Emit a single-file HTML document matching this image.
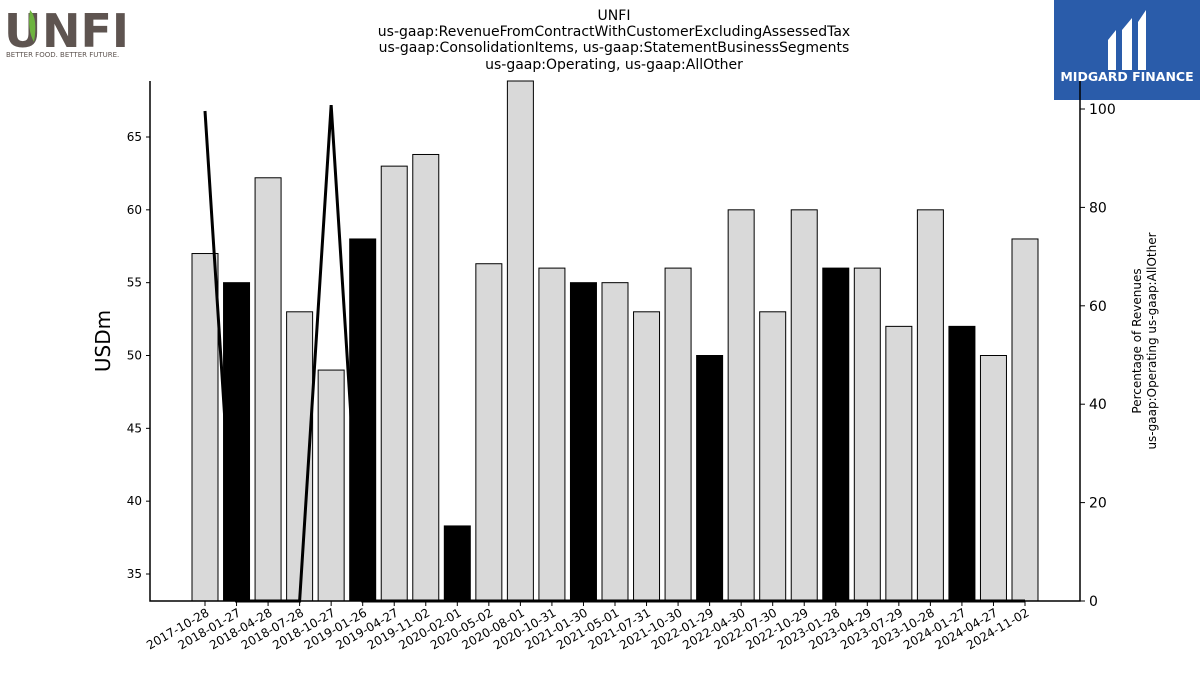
<!DOCTYPE html>
<html><head><meta charset="utf-8"><style>
body{margin:0;background:#fff;width:1200px;height:675px;overflow:hidden;font-family:"Liberation Sans","DejaVu Sans",sans-serif}
svg text{font-family:"DejaVu Sans","Liberation Sans",sans-serif}
</style></head><body>
<svg width="1200" height="675" viewBox="0 0 1200 675">
<g>
<text x="4" y="47" font-size="46" font-weight="bold" fill="#5e5450" font-family="Liberation Sans" letter-spacing="2">U</text>
<path d="M30 10 Q38 18 34 42 Q27 30 30 10Z" fill="#6db33f"/>
<text x="42" y="47" font-size="46" font-weight="bold" fill="#5e5450" font-family="Liberation Sans">NFI</text>
<text x="6" y="57" font-size="7" fill="#5e5450" font-family="Liberation Sans">BETTER FOOD. BETTER FUTURE.</text>
</g>
<g>
<rect x="1054" y="0" width="146" height="100" fill="#2a5caa"/>
<path d="M1108 40 L1116 30 L1116 70 L1108 70Z M1122 30 L1132 18 L1132 70 L1122 70Z M1138 22 L1146 10 L1146 70 L1138 70Z" fill="#fff"/>
<text x="1127" y="81" font-size="12.5" font-weight="bold" fill="#fff" text-anchor="middle" font-family="Liberation Sans">MIDGARD FINANCE</text>
</g>
<g font-size="14" text-anchor="middle" fill="#000">
<text x="614" y="20">UNFI</text>
<text x="614" y="36">us-gaap:RevenueFromContractWithCustomerExcludingAssessedTax</text>
<text x="614" y="52">us-gaap:ConsolidationItems, us-gaap:StatementBusinessSegments</text>
<text x="614" y="69">us-gaap:Operating, us-gaap:AllOther</text>
</g>
<g id="bars"></g>
<g id="line"></g>
<g id="axes"></g>
<text transform="translate(110,341) rotate(-90)" font-size="20" text-anchor="middle">USDm</text>
<g transform="rotate(-90)" font-size="12" text-anchor="middle">
<text x="-341" y="1141">Percentage of Revenues</text>
<text x="-341" y="1156">us-gaap:Operating us-gaap:AllOther</text>
</g>
</svg>
<script>
const categories=["2017-10-28","2018-01-27","2018-04-28","2018-07-28","2018-10-27","2019-01-26","2019-04-27","2019-11-02","2020-02-01","2020-05-02","2020-08-01","2020-10-31","2021-01-30","2021-05-01","2021-07-31","2021-10-30","2022-01-29","2022-04-30","2022-07-30","2022-10-29","2023-01-28","2023-04-29","2023-07-29","2023-10-28","2024-01-27","2024-04-27","2024-11-02"];
const revenues=[57,55,62.2,53,49,58,63,63.8,38.3,56.3,70,56,55,55,53,56,50,60,53,60,56,56,52,60,52,50,58];
const highlighted=[0,1,0,0,0,1,0,0,1,0,0,0,1,0,0,0,1,0,0,0,1,0,0,0,1,0,0];
const percentages=[99.6,0,0,0,100.8,0,0,0,0,0,0,0,0,0,0,0,0,0,0,0,0,0,0,0,0,0,0];
const leftTicks=[35,40,45,50,55,60,65];
const rightTicks=[0,20,40,60,80,100];
const NS="http://www.w3.org/2000/svg";
const L=150,R=1080,T=81,B=601;
const yL=v=>574-(v-35)*(437/30);
const yR=v=>601-v*4.92;
const xC=i=>205+i*(820/(categories.length-1));
function mk(tag,attrs,parent){const e=document.createElementNS(NS,tag);for(const k in attrs)e.setAttribute(k,attrs[k]);parent.appendChild(e);return e;}
const gb=document.getElementById('bars'),gl=document.getElementById('line'),ga=document.getElementById('axes');
const bw=26;
revenues.forEach((v,i)=>{const top=Math.max(T,yL(v));
const r=mk('rect',{x:xC(i)-bw/2,y:top,width:bw,height:B-top,fill:highlighted[i]?'#000':'#d9d9d9',stroke:'#000','stroke-width':1},gb);

});
const pts=percentages.map((p,i)=>xC(i)+','+yR(p)).join(' ');
const pl=mk('polyline',{points:pts,fill:'none',stroke:'#000','stroke-width':3},gl);


const lax=mk('path',{d:`M${L} ${T}V${B}H${R}V${T}`,fill:'none',stroke:'#000','stroke-width':1.5},ga);


leftTicks.forEach(t=>{const y=yL(t);mk('line',{x1:L-4,x2:L,y1:y,y2:y,stroke:'#000'},ga);
const tx=mk('text',{x:L-8,y:y+4,'font-size':12,'text-anchor':'end'},ga);tx.textContent=t;

});
rightTicks.forEach(t=>{const y=yR(t);mk('line',{x1:R,x2:R+5,y1:y,y2:y,stroke:'#000'},ga);
const tx=mk('text',{x:R+9,y:y+5,'font-size':14},ga);tx.textContent=t;

});
categories.forEach((c,i)=>{const x=xC(i);mk('line',{x1:x,x2:x,y1:B,y2:B+5,stroke:'#000'},ga);
const tx=mk('text',{transform:`translate(${x+5},${B+14}) rotate(-30)`,'font-size':12,'text-anchor':'end'},ga);tx.textContent=c;

});
</script>
</body></html>
